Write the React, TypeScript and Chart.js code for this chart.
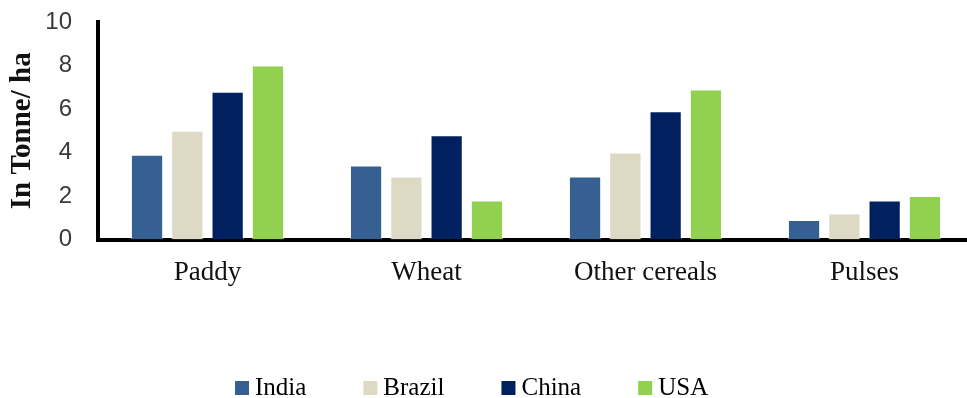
import React, { useEffect, useRef } from "react";
import { Chart, registerables } from "chart.js";

Chart.register(...registerables);

// Crop yields by country, tonnes per hectare
const crops = ["Paddy", "Wheat", "Other cereals", "Pulses"];
const countries = ["India", "Brazil", "China", "USA"];
const india = [3.9, 3.4, 2.9, 0.9];
const brazil = [5.0, 2.9, 4.0, 1.2];
const china = [6.8, 4.8, 5.9, 1.8];
const usa = [8.0, 1.8, 6.9, 2.0];
const yTicks = [0, 2, 4, 6, 8, 10];
const yTitle = "In Tonne/ ha";

const seriesValues = [india, brazil, china, usa];
const seriesColors = ["#366092", "#DDD9C4", "#002060", "#92D050"];

const SERIF = '"Liberation Serif", "Times New Roman", serif';
const SANS = '"Liberation Sans", Arial, sans-serif';

// Single-row legend drawn below the category labels
const rowLegend = {
  id: "rowLegend",
  afterDraw(chart: any) {
    const ctx = chart.ctx as CanvasRenderingContext2D;
    ctx.save();
    ctx.font = `25px ${SERIF}`;
    ctx.textBaseline = "middle";
    ctx.textAlign = "left";
    const box = 14;
    const cy = 388;
    let x = 235;
    chart.data.datasets.forEach((ds: any) => {
      ctx.fillStyle = ds.backgroundColor;
      ctx.fillRect(x, cy - box / 2, box, box);
      ctx.fillStyle = "#000";
      ctx.fillText(ds.label, x + 20, cy);
      x += 20 + ctx.measureText(ds.label).width + 57;
    });
    ctx.restore();
  },
};

export default function App() {
  const canvasRef = useRef<HTMLCanvasElement>(null);

  useEffect(() => {
    if (!canvasRef.current) return;
    const chart = new Chart(canvasRef.current, {
      type: "bar",
      data: {
        labels: crops,
        datasets: countries.map((name, i) => ({
          label: name,
          data: seriesValues[i],
          backgroundColor: seriesColors[i],
          borderColor: "rgba(255,255,255,0.45)",
          borderWidth: 1,
          categoryPercentage: 0.736,
          barPercentage: 0.8,
        })),
      },
      options: {
        responsive: false,
        animation: false,
        events: [],
        layout: { padding: { top: 22, right: 2, bottom: 92, left: 0 } },
        plugins: {
          legend: { display: false },
          tooltip: { enabled: false },
        },
        scales: {
          x: {
            grid: { display: false, drawTicks: false },
            border: { display: true, color: "#000", width: 4 },
            ticks: {
              color: "#111",
              padding: 17,
              font: { family: SERIF, size: 27 },
            },
          },
          y: {
            min: 0,
            max: 10,
            afterBuildTicks(scale: any) {
              scale.ticks = yTicks.map((v) => ({ value: v }));
            },
            afterFit(scale: any) {
              scale.width = 98;
              scale.paddingTop = 0;
              scale.paddingBottom = 0;
            },
            grid: { display: false, drawTicks: false },
            border: { display: true, color: "#000", width: 4 },
            ticks: {
              color: "#3a3a3a",
              padding: 26,
              font: { family: SANS, size: 24 },
            },
            title: {
              display: true,
              text: yTitle,
              color: "#111",
              padding: { top: 5, bottom: 0 },
              font: { family: SERIF, size: 29, weight: "bold" },
            },
          },
        },
      },
      plugins: [rowLegend],
    });
    return () => chart.destroy();
  }, []);

  return (
    <div
      style={{
        position: "absolute",
        left: 0,
        top: 0,
        width: 967,
        height: 398,
        overflow: "hidden",
        background: "#fff",
      }}
    >
      <canvas
        ref={canvasRef}
        width={976}
        height={398}
        style={{ width: 976, height: 398, display: "block" }}
      />
    </div>
  );
}
